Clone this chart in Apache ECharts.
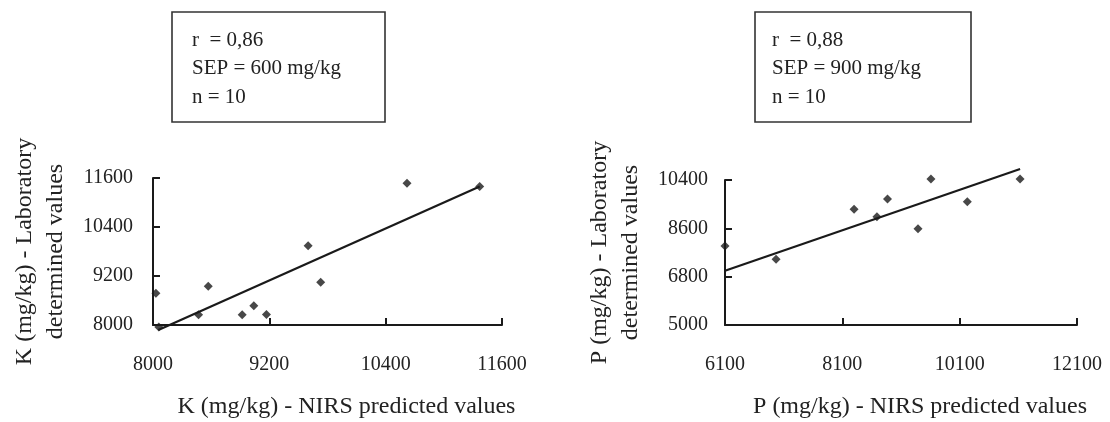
<!DOCTYPE html>
<html>
<head>
<meta charset="utf-8">
<script src="https://cdn.jsdelivr.net/npm/echarts@6/dist/echarts.min.js"></script>
<style>
html,body{margin:0;padding:0;background:#fff;}
#c{width:1110px;height:422px;}
</style>
</head>
<body>
<div id="c"></div>
<script>
// K plot data
var kPredicted = [8030, 8060, 8470, 8570, 8920, 9040, 9170, 9600, 9730, 10620, 11370];
var kLab       = [8780, 7950, 8250, 8950, 8250, 8470, 8260, 9940, 9050, 11470, 11390];
var kLineX = [8055, 11370];
var kLineY = [7880, 11390];
var kTicks = [8000, 9200, 10400, 11600];

// P plot data
var pPredicted = [6100, 6970, 8300, 8690, 8870, 9390, 9610, 10230, 11130];
var pLab       = [7940, 7450, 9310, 9030, 9690, 8580, 10440, 9590, 10440];
var pLineX = [6100, 11130];
var pLineY = [7020, 10810];
var pXTicks = [6100, 8100, 10100, 12100];
var pYTicks = [5000, 6800, 8600, 10400];

var kStats = ['r  = 0,86', 'SEP = 600 mg/kg', 'n = 10'];
var pStats = ['r  = 0,88', 'SEP = 900 mg/kg', 'n = 10'];

function zip(a, b) { return a.map(function (v, i) { return [v, b[i]]; }); }

var FONT = '"Liberation Serif", "DejaVu Serif", serif';
var INK = '#1a1a1a';
function plain(v) { return String(v); }

function xAx(gi, ticks, name, pad) {
  return {
    type: 'value', gridIndex: gi,
    min: ticks[0], max: ticks[ticks.length - 1], interval: ticks[1] - ticks[0],
    axisLine: { show: true, onZero: false, lineStyle: { color: INK, width: 2 } },
    axisTick: { show: true, inside: true, length: 7, lineStyle: { color: INK, width: 2 } },
    splitLine: { show: false },
    axisLabel: { color: '#222', fontFamily: FONT, fontSize: 20, margin: 30, formatter: plain },
    name: name, nameLocation: 'middle', nameGap: 70,
    nameTextStyle: { color: '#222', fontFamily: FONT, fontSize: 24, padding: pad }
  };
}
function yAx(gi, ticks, name, gap, lm) {
  return {
    type: 'value', gridIndex: gi,
    min: ticks[0], max: ticks[ticks.length - 1], interval: ticks[1] - ticks[0],
    axisLine: { show: true, onZero: false, lineStyle: { color: INK, width: 2 } },
    axisTick: { show: true, inside: true, length: 7, lineStyle: { color: INK, width: 2 } },
    splitLine: { show: false },
    axisLabel: { color: '#222', fontFamily: FONT, fontSize: 20, margin: lm, formatter: plain },
    name: name, nameLocation: 'middle', nameGap: gap, nameRotate: 90,
    nameTextStyle: { color: '#222', fontFamily: FONT, fontSize: 24, lineHeight: 31 }
  };
}

var chart = echarts.init(document.getElementById('c'), null, { renderer: 'canvas' });
chart.setOption({
  backgroundColor: '#fff',
  animation: false,
  grid: [
    { left: 153, right: 608, top: 178, bottom: 97 },
    { left: 725, right: 33, top: 180, bottom: 97 }
  ],
  xAxis: [
    xAx(0, kTicks, 'K (mg/kg) - NIRS predicted values', [0, 0, 0, 38]),
    xAx(1, pXTicks, 'P (mg/kg) - NIRS predicted values', [0, 0, 0, 38])
  ],
  yAxis: [
    yAx(0, kTicks, 'K (mg/kg) - Laboratory\ndetermined values', 82, 20),
    yAx(1, pYTicks, 'P (mg/kg) - Laboratory\ndetermined values', 79, 17)
  ],
  series: [
    { type: 'line', xAxisIndex: 0, yAxisIndex: 0, data: zip(kLineX, kLineY), showSymbol: false, clip: false,
      lineStyle: { color: INK, width: 2.2 } },
    { type: 'scatter', xAxisIndex: 0, yAxisIndex: 0, data: zip(kPredicted, kLab), symbol: 'diamond', symbolSize: 9, clip: false,
      itemStyle: { color: INK } },
    { type: 'line', xAxisIndex: 1, yAxisIndex: 1, data: zip(pLineX, pLineY), showSymbol: false, clip: false,
      lineStyle: { color: INK, width: 2.2 } },
    { type: 'scatter', xAxisIndex: 1, yAxisIndex: 1, data: zip(pPredicted, pLab), symbol: 'diamond', symbolSize: 9, clip: false,
      itemStyle: { color: INK } }
  ],
  graphic: [
    { type: 'rect', shape: { x: 172, y: 12, width: 213, height: 110 },
      style: { fill: '#fff', stroke: '#333', lineWidth: 1.6 } },
    { type: 'text', x: 192, y: 26,
      style: { text: kStats.join('\n'), font: '21px ' + FONT, fill: '#222', lineHeight: 28.5 } },
    { type: 'rect', shape: { x: 755, y: 12, width: 216, height: 110 },
      style: { fill: '#fff', stroke: '#333', lineWidth: 1.6 } },
    { type: 'text', x: 772, y: 26,
      style: { text: pStats.join('\n'), font: '21px ' + FONT, fill: '#222', lineHeight: 28.5 } }
  ]
});
</script>
</body>
</html>
